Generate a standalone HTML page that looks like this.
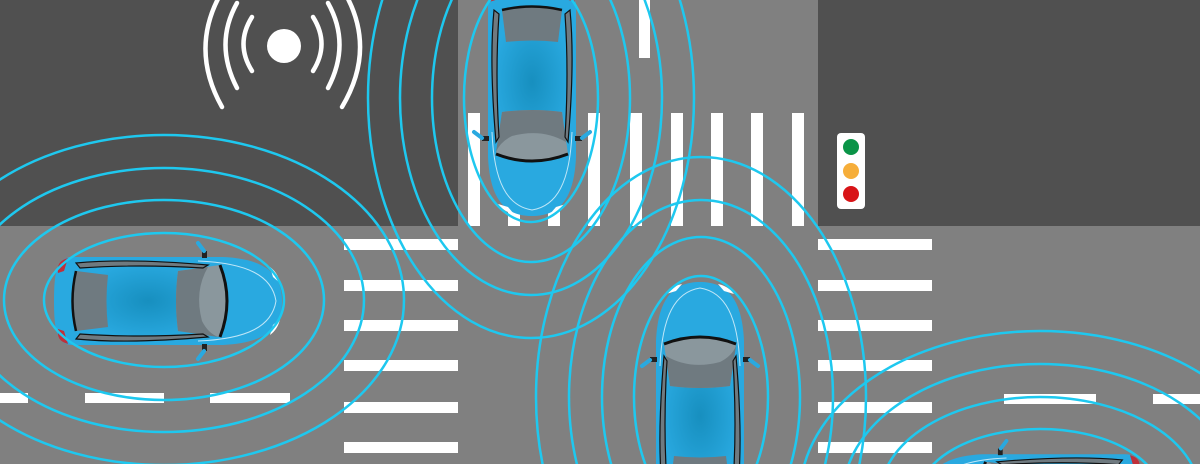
<!DOCTYPE html>
<html><head><meta charset="utf-8"><style>html,body{margin:0;padding:0;background:#808080;overflow:hidden}svg{display:block}</style></head>
<body>
<svg width="1200" height="464" viewBox="0 0 1200 464" xmlns="http://www.w3.org/2000/svg">
<defs>
<radialGradient id="roof" cx="0.5" cy="0.5" r="0.5">
<stop offset="0" stop-color="#178fbf"/><stop offset="1" stop-color="#29a9e0"/>
</radialGradient>
<g id="car">
<path d="M -95,-44 L 55,-44 C 100,-42 114,-25 114,0 C 114,25 100,42 55,44 L -95,44 C -111,44 -114,30 -114,0 C -114,-30 -111,-44 -95,-44 Z" fill="#29a9e0"/>
<path d="M 30,-40 C 80,-38 104,-25 108,0 C 104,25 80,38 30,40" fill="none" stroke="#bfe6f7" stroke-width="1"/>
<ellipse cx="-20" cy="0" rx="70" ry="40" fill="url(#roof)"/>
<path d="M -110,-28 Q -112,-40 -100,-43 L -104,-30 Z" fill="#c0303a"/>
<path d="M -110,28 Q -112,40 -100,43 L -104,30 Z" fill="#c0303a"/>
<path d="M 102,-34 Q 110,-28 112,-18 L 105,-24 Z" fill="#fff"/>
<path d="M 102,34 Q 110,28 112,18 L 105,24 Z" fill="#fff"/>
<path d="M -92,-30 Q -99,0 -92,30 L -60,26 Q -63,0 -60,-26 Z" fill="#6f7a80"/>
<path d="M -92,-30 Q -99,0 -92,30" fill="none" stroke="#111" stroke-width="2.5"/>
<path d="M 10,-30 L 52,-36 Q 66,0 52,36 L 10,30 Q 6,0 10,-30 Z" fill="#8a979d"/>
<path d="M 10,30 Q 6,0 10,-30 L 40,-34 Q 26,-10 34,20 Q 40,32 50,36 Z" fill="#6f7a80"/>
<path d="M 52,-36 Q 66,0 52,36" fill="none" stroke="#111" stroke-width="3"/>
<path d="M -92,-38 Q -40,-43 40,-36 L 35,-33 Q -30,-37 -88,-33 Z" fill="#6f7a80" stroke="#111" stroke-width="1.2"/>
<path d="M -92,38 Q -40,43 40,36 L 35,33 Q -30,37 -88,33 Z" fill="#6f7a80" stroke="#111" stroke-width="1.2"/>
<rect x="34" y="-50" width="5" height="7" fill="#222"/>
<path d="M 36,-50 L 30,-58" stroke="#29a9e0" stroke-width="4" stroke-linecap="round"/>
<rect x="34" y="43" width="5" height="7" fill="#222"/>
<path d="M 36,50 L 30,58" stroke="#29a9e0" stroke-width="4" stroke-linecap="round"/>
</g>
</defs>
<rect width="1200" height="464" fill="#808080"/>
<rect x="0" y="0" width="458" height="226" fill="#505050"/>
<rect x="818" y="0" width="382" height="226" fill="#505050"/>
<g fill="#fff">
<rect x="468" y="113" width="12" height="113"/><rect x="508" y="113" width="12" height="113"/>
<rect x="548" y="113" width="12" height="113"/><rect x="588" y="113" width="12" height="113"/>
<rect x="630" y="113" width="12" height="113"/><rect x="671" y="113" width="12" height="113"/>
<rect x="711" y="113" width="12" height="113"/><rect x="751" y="113" width="12" height="113"/>
<rect x="792" y="113" width="12" height="113"/>
<rect x="639" y="0" width="11" height="58"/>
<rect x="344" y="239" width="114" height="11"/><rect x="344" y="280" width="114" height="11"/>
<rect x="344" y="320" width="114" height="11"/><rect x="344" y="360" width="114" height="11"/>
<rect x="344" y="402" width="114" height="11"/><rect x="344" y="442" width="114" height="11"/>
<rect x="818" y="239" width="114" height="11"/><rect x="818" y="280" width="114" height="11"/>
<rect x="818" y="320" width="114" height="11"/><rect x="818" y="360" width="114" height="11"/>
<rect x="818" y="402" width="114" height="11"/><rect x="818" y="442" width="114" height="11"/>
<rect x="0" y="393" width="28" height="10"/><rect x="85" y="393" width="79" height="10"/><rect x="210" y="393" width="80" height="10"/>
<rect x="1004" y="394" width="92" height="10"/><rect x="1153" y="394" width="47" height="10"/>
</g>
<circle cx="284" cy="46" r="17" fill="#fff"/>
<g fill="none" stroke="#fff" stroke-width="4.5" stroke-linecap="round">
<path d="M 252,17 Q 235,44 252,71"/><path d="M 313,17 Q 330,44 313,71"/>
<path d="M 237,3 Q 214,44 237,88"/><path d="M 328,3 Q 351,44 328,88"/>
<path d="M 220,-5 Q 190,50 222,107"/><path d="M 346,-5 Q 376,50 342,107"/>
</g>
<rect x="837" y="133" width="28" height="76" rx="4" fill="#fff"/>
<circle cx="851" cy="147" r="8" fill="#0a9447"/>
<circle cx="851" cy="171" r="8" fill="#f6ae3a"/>
<circle cx="851" cy="194" r="8" fill="#d81417"/>
<use href="#car" transform="translate(168,301)"/>
<use href="#car" transform="translate(532,102) rotate(90)"/>
<use href="#car" transform="translate(700,396) rotate(-90)"/>
<use href="#car" transform="translate(1035,496) rotate(180) scale(0.95)"/>
<g fill="none" stroke="#1ec8ef" stroke-width="2.5">
<ellipse cx="164" cy="300" rx="120" ry="67"/><ellipse cx="164" cy="300" rx="160" ry="100"/>
<ellipse cx="164" cy="300" rx="200" ry="132"/><ellipse cx="164" cy="300" rx="240" ry="165"/>
<ellipse cx="531" cy="98" rx="67" ry="124"/><ellipse cx="531" cy="98" rx="99" ry="164"/>
<ellipse cx="531" cy="98" rx="131" ry="197"/><ellipse cx="531" cy="98" rx="163" ry="240"/>
<ellipse cx="701" cy="397" rx="67" ry="121"/><ellipse cx="701" cy="397" rx="99" ry="160"/>
<ellipse cx="701" cy="397" rx="132" ry="197"/><ellipse cx="701" cy="397" rx="165" ry="240"/>
<ellipse cx="1040" cy="496" rx="121" ry="67"/><ellipse cx="1040" cy="496" rx="160" ry="99"/>
<ellipse cx="1040" cy="496" rx="197" ry="132"/><ellipse cx="1040" cy="496" rx="240" ry="165"/>
</g>
</svg>
</body></html>
